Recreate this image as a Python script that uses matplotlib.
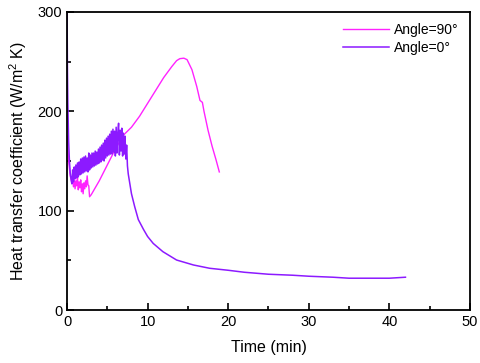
import matplotlib
matplotlib.use('Agg')
import matplotlib.pyplot as plt

plt.rcParams['font.family'] = ['Liberation Sans', 'DejaVu Sans']
plt.rcParams['mathtext.default'] = 'regular'

# Angle=90 deg curve
t90 = [0.0, 0.05, 0.2, 0.4, 0.6, 0.7, 0.8, 0.9, 1.0, 1.1, 1.2, 1.3, 1.4, 1.5, 1.6,
       1.7, 1.8, 1.9, 2.0, 2.1, 2.2, 2.3, 2.4, 2.5, 2.6, 2.7, 2.8, 3.0, 4.0, 5.0,
       6.0, 7.0, 8.0, 9.0, 10.0, 11.0, 12.0, 13.0, 13.6, 14.0, 14.5, 14.9, 15.5,
       16.1, 16.5, 16.8, 17.0, 17.5, 18.0, 18.5, 18.9]
h90 = [170, 175, 150, 135, 128, 132, 124, 131, 122, 130, 125, 133, 121, 129, 123,
       131, 119, 127, 117, 128, 122, 130, 124, 135, 126, 125, 114, 116, 130, 146,
       162, 176, 184, 195, 208, 221, 234, 245, 251, 253, 253.5, 252, 242,
       225, 211, 209, 200, 181, 165, 151, 139]

# Angle=0 deg curve
t0 = [0.0, 0.05, 0.1, 0.15, 0.2, 0.3, 0.4, 0.5,
      0.6, 0.7, 0.8, 0.9, 1.0, 1.1, 1.2, 1.3, 1.4, 1.5, 1.6, 1.7, 1.8, 1.9,
      2.0, 2.1, 2.2, 2.3, 2.4, 2.5, 2.6, 2.7, 2.8, 2.9, 3.0, 3.1, 3.2, 3.3,
      3.4, 3.5, 3.6, 3.7, 3.8, 3.9, 4.0, 4.1, 4.2, 4.3, 4.4, 4.5, 4.6, 4.7,
      4.8, 4.9, 5.0, 5.1, 5.2, 5.3, 5.4, 5.5, 5.6, 5.7, 5.8, 5.9, 6.0, 6.1,
      6.2, 6.3, 6.4, 6.5, 6.6, 6.7, 6.8, 6.9, 7.0, 7.1, 7.2, 7.3, 7.4, 7.5,
      7.6, 8.0, 8.4, 8.85, 9.5, 10.0, 10.7, 11.9, 13.6, 15.7, 17.7, 20.0,
      22.0, 25.0, 28.0, 30.0, 33.0, 35.0, 38.0, 40.0, 42.0]
h0 = [310, 245, 210, 190, 170, 150, 138, 132,
      127, 141, 129, 144, 132, 146, 133, 148, 134, 149, 136, 152, 137, 153,
      138, 154, 139, 155, 140, 153, 139, 158, 141, 156, 143, 158, 144, 158,
      145, 160, 146, 159, 147, 162, 148, 164, 149, 166, 151, 168, 150, 171,
      153, 173, 155, 175, 156, 177, 157, 180, 157, 182, 159, 180, 155, 184,
      158, 178, 188, 156, 181, 160, 183, 155, 178, 157, 175, 152, 166, 145,
      137, 117, 104, 91, 81, 74, 67, 58.7, 50.3, 45.3, 42, 40,
      38, 36, 35, 34, 33, 32, 32, 32, 33]

fig = plt.figure(figsize=(4.8, 3.63), dpi=100)
ax = fig.add_axes([0.1396, 0.146, 0.8394, 0.821])
ax.plot(t90, h90, color='#FF22FF', lw=1.0, label='Angle=90°')
ax.plot(t0, h0, color='#8C1AFF', lw=1.1, label='Angle=0°')

ax.set_xlim(0, 50)
ax.set_ylim(0, 300)
ax.set_xticks([0, 10, 20, 30, 40, 50])
ax.set_xticks([5, 15, 25, 35, 45], minor=True)
ax.set_yticks([0, 100, 200, 300])
ax.set_yticks([50, 150, 250], minor=True)
ax.tick_params(which='both', direction='in', labelsize=10.5, width=1.2)
ax.tick_params(which='major', length=5)
ax.tick_params(which='minor', length=3)
for s in ax.spines.values():
    s.set_linewidth(1.3)

ax.set_xlabel('Time (min)', fontsize=11.5, labelpad=8)
ax.set_ylabel('Heat transfer coefficient (W/m$^2$ K)', fontsize=11.5, labelpad=6)
ax.legend(loc='upper right', frameon=False, fontsize=10, handlelength=3.3,
          handletextpad=0.4, labelspacing=0.3, borderaxespad=0.4)

plt.savefig('out.png', dpi=100)
